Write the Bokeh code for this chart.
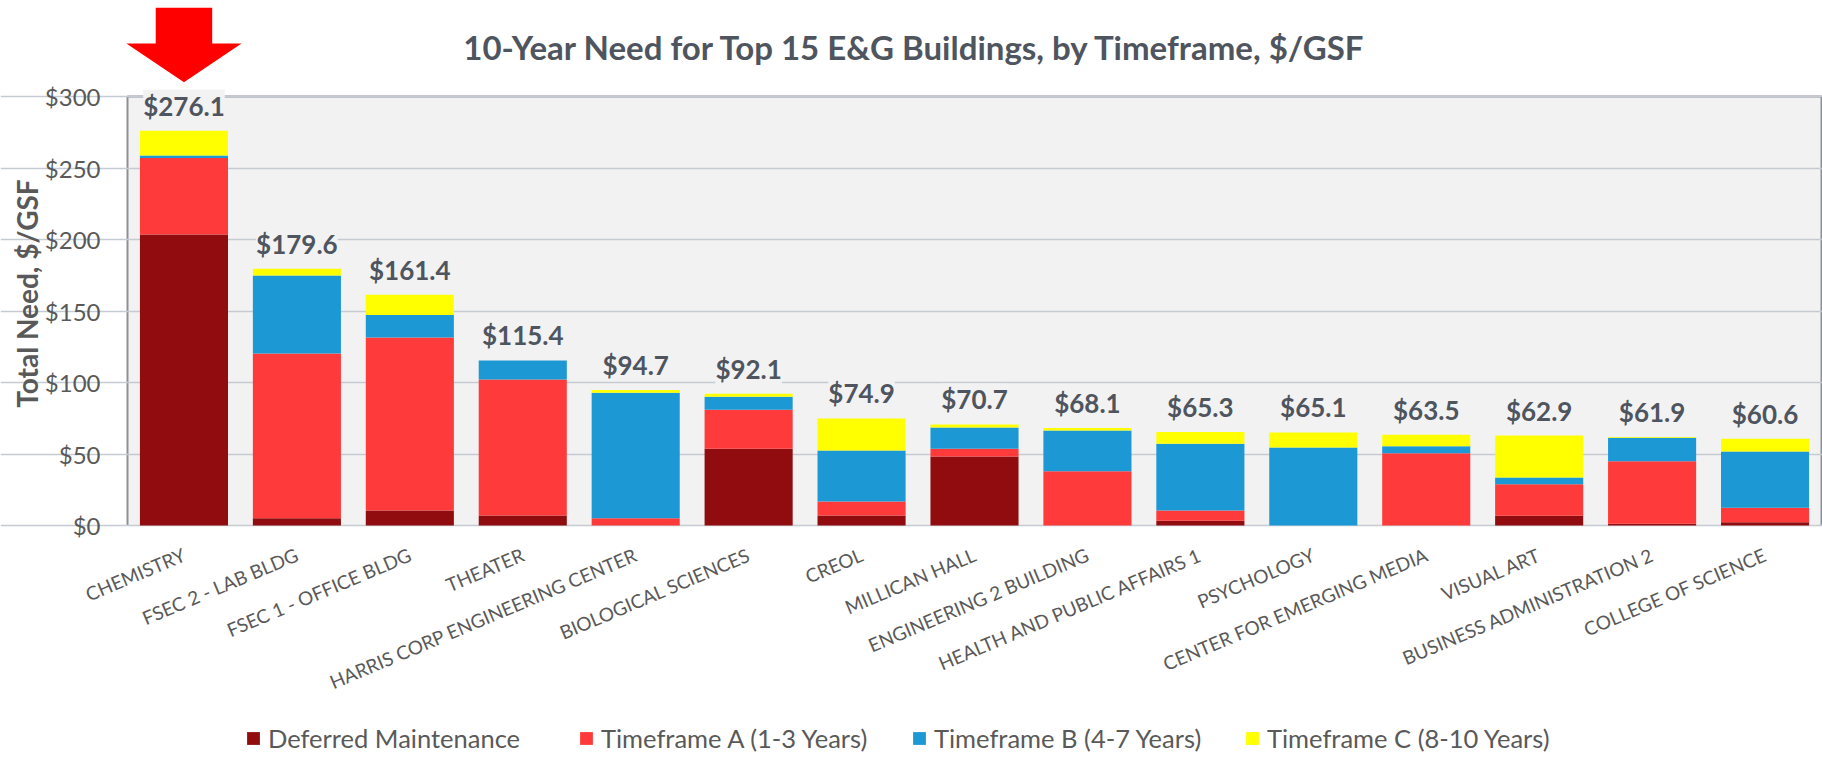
import math
from bokeh.plotting import figure
from bokeh.models import (ColumnDataSource, FixedTicker, NumeralTickFormatter, Label,
                          LabelSet, Legend, LegendItem, PolyAnnotation, BoxAnnotation, Range1d)
from bokeh.core.properties import value
from bokeh.embed import file_html
from bokeh.resources import INLINE

# ---------------- data ----------------
buildings = ["CHEMISTRY", "FSEC 2 - LAB BLDG", "FSEC 1 - OFFICE BLDG", "THEATER",
             "HARRIS CORP ENGINEERING CENTER", "BIOLOGICAL SCIENCES", "CREOL",
             "MILLICAN HALL", "ENGINEERING 2 BUILDING", "HEALTH AND PUBLIC AFFAIRS 1",
             "PSYCHOLOGY", "CENTER FOR EMERGING MEDIA", "VISUAL ART",
             "BUSINESS ADMINISTRATION 2", "COLLEGE OF SCIENCE"]
deferred = [203.5, 5.1, 10.5, 7.0, 0.0, 53.6, 7.0, 48.3, 0.0, 3.3, 0.0, 0.0, 6.8, 1.2, 2.3]
tf_a = [53.5, 115.2, 121.0, 95.1, 5.1, 27.3, 9.8, 5.3, 38.0, 7.2, 0.0, 50.6, 22.1, 43.8, 10.1]
tf_b = [1.7, 54.5, 15.7, 13.3, 87.7, 9.1, 35.6, 14.9, 28.4, 46.6, 54.6, 4.9, 4.7, 16.4, 39.3]
tf_c = [17.4, 4.8, 14.2, 0.0, 1.9, 2.1, 22.5, 2.2, 1.7, 8.2, 10.5, 8.0, 29.3, 0.5, 8.9]
series_names = ["Deferred Maintenance", "Timeframe A (1-3 Years)",
                "Timeframe B (4-7 Years)", "Timeframe C (8-10 Years)"]
y_ticks = [0, 50, 100, 150, 200, 250, 300]
title_text = "10-Year Need for Top 15 E&G Buildings, by Timeframe, $/GSF"
y_title = "Total Need, $/GSF"

# ---------------- styling / layout ----------------
colors = ["#900c0e", "#ff3a3a", "#1c98d4", "#ffff00"]
FONT = "Lato"
TXT = "#595959"
DARK = "#4f555e"
W, H = 1822, 759
AREA_LEFT, AREA_RIGHT = 127, 1821          # page x of the grey plot area
Y_MAX = 300
PX_PER_UNIT = 429 / Y_MAX                  # plot area: 429 px tall for 0..300
ZERO_PX = 525                              # page y of the zero line
n = len(buildings)
PX_PER_CAT = (AREA_RIGHT - AREA_LEFT) / n

x_start = -AREA_LEFT / PX_PER_CAT
x_end = n + (W - AREA_RIGHT) / PX_PER_CAT
y_top = ZERO_PX / PX_PER_UNIT
y_bot = -(H - ZERO_PX) / PX_PER_UNIT

xpos = [i + 0.5 for i in range(n)]          # category centres
totals = [round(d + a + b + c, 1) for d, a, b, c in zip(deferred, tf_a, tf_b, tf_c)]
src = ColumnDataSource(dict(x=xpos, building=buildings, dm=deferred, a=tf_a, b=tf_b,
                            c=tf_c, total=totals, label=[f"${t:.1f}" for t in totals]))

p = figure(x_range=Range1d(x_start, x_end), y_range=Range1d(y_bot, y_top),
           width=W, height=H, output_backend="svg", toolbar_location=None,
           min_border_left=0, min_border_right=0, min_border_top=0, min_border_bottom=0,
           background_fill_color="white", border_fill_color="white",
           outline_line_color=None)

# grey plot area, border on left / top / right
p.add_layout(BoxAnnotation(bottom=0, top=Y_MAX, left=0, right=n,
                           fill_color="#f2f2f2", fill_alpha=1.0,
                           line_color=None, level="image"))
p.multi_line(xs=[[0, 0, n, n]], ys=[[0, Y_MAX, Y_MAX, 0]],
             line_color="#8c9096", line_width=2, level="underlay")

rs = p.vbar_stack(["dm", "a", "b", "c"], x="x", width=0.78, source=src,
                  color=colors, line_color=None)

# y axis on the left edge of the plot area
p.yaxis.fixed_location = 0
p.yaxis.ticker = FixedTicker(ticks=y_ticks)
p.yaxis.formatter = NumeralTickFormatter(format="$0")
p.yaxis.axis_line_color = None
p.yaxis.major_tick_line_color = None
p.yaxis.major_tick_out = 0
p.yaxis.major_tick_in = 0
p.yaxis.minor_tick_line_color = None
p.yaxis.major_label_standoff = 27
p.yaxis.major_label_text_font = FONT
p.yaxis.major_label_text_font_size = "24px"
p.yaxis.major_label_text_color = TXT

# x axis at zero, category names on the bar centres
p.xaxis.fixed_location = 0
p.xaxis.ticker = FixedTicker(ticks=xpos)
p.xaxis.major_label_overrides = {xv: b for xv, b in zip(xpos, buildings)}
p.xaxis.axis_line_color = None
p.xaxis.major_tick_line_color = None
p.xaxis.minor_tick_line_color = None
p.xaxis.major_tick_out = 0
p.xaxis.major_tick_in = 0
p.xaxis.major_label_orientation = 0.40
p.xaxis.major_label_standoff = 28
p.xaxis.major_label_text_font = FONT
p.xaxis.major_label_text_font_size = "19px"
p.xaxis.major_label_text_color = TXT

p.xgrid.visible = False
p.ygrid.ticker = FixedTicker(ticks=y_ticks)
p.ygrid.grid_line_color = "#c6cad2"
p.ygrid.grid_line_width = 1.5

# data labels
lkw = dict(x="x", y="total", text="label", source=src, y_offset=25,
           text_align="center", text_baseline="middle", text_font=value(FONT),
           text_font_size="26px", text_font_style="bold", text_color=DARK,
           background_fill_color="#f2f2f2")
if "padding" in LabelSet.properties():
    lkw["padding"] = 5
p.add_layout(LabelSet(**lkw))

# title (centred on chart area)
p.add_layout(Label(x=(915 - AREA_LEFT) / PX_PER_CAT, y=(ZERO_PX - 46) / PX_PER_UNIT,
                   text=title_text, text_align="center", text_baseline="middle",
                   text_font=FONT, text_font_size="33px", text_font_style="bold",
                   text_color=DARK))

# y axis title
p.add_layout(Label(x=(26.5 - AREA_LEFT) / PX_PER_CAT, y=(ZERO_PX - 293) / PX_PER_UNIT,
                   text=y_title, angle=math.pi / 2, text_align="center",
                   text_baseline="middle", text_font=FONT, text_font_size="28px",
                   text_font_style="bold", text_color=TXT))

# red arrow pointing at the first bar
cx = xpos[0]
p.add_layout(PolyAnnotation(
    xs=[cx - 0.25, cx + 0.25, cx + 0.25, cx + 0.51, cx, cx - 0.51, cx - 0.25],
    ys=[362, 362, 337, 337, 310, 337, 337],
    xs_units="data", ys_units="data", fill_color="#ff0000", fill_alpha=1.0,
    line_color=None))

# legend (equal-width entries)
legend = Legend(items=[LegendItem(label=nm, renderers=[r]) for nm, r in zip(series_names, rs)],
                location=(118 + AREA_LEFT, 6), orientation="horizontal",
                background_fill_alpha=0, border_line_color=None, padding=0, margin=0,
                spacing=20, label_standoff=7, glyph_width=16, glyph_height=16,
                label_width=290, label_height=16, label_text_font=FONT,
                label_text_font_size="25.5px", label_text_color=TXT,
                label_text_baseline="middle")
p.add_layout(legend)

open("out.html", "w").write(file_html(p, INLINE))
